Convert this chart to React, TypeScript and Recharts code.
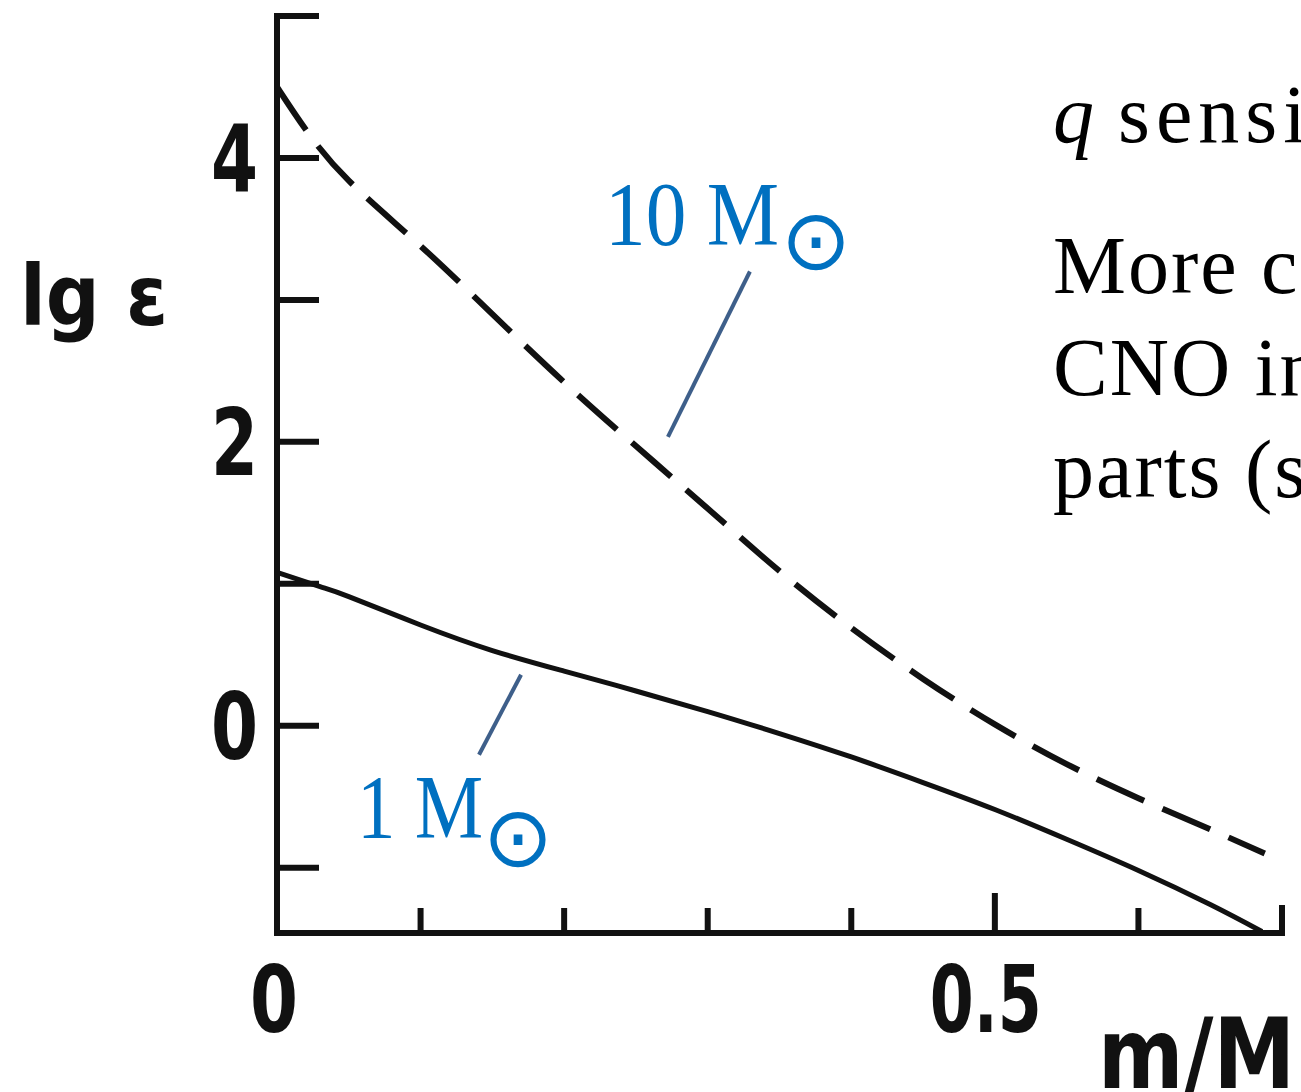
import React from 'react';
import { LineChart, Line, XAxis, YAxis, ReferenceLine } from 'recharts';

// m/M positions and lg epsilon values
const m10X = [0, 0.02, 0.05, 0.1, 0.15, 0.2, 0.25, 0.3, 0.35, 0.4, 0.45, 0.5, 0.55, 0.6, 0.65, 0.688];
const m10Y = [4.5, 4.2, 3.84, 3.38, 2.9, 2.42, 1.97, 1.53, 1.09, 0.69, 0.33, 0.01, -0.27, -0.51, -0.73, -0.9];
const m1X = [0, 0.03, 0.05, 0.1, 0.15, 0.2, 0.25, 0.3, 0.35, 0.4, 0.45, 0.5, 0.55, 0.6, 0.65, 0.686];
const m1Y = [1.08, 0.98, 0.91, 0.71, 0.53, 0.385, 0.245, 0.1, -0.055, -0.22, -0.4, -0.59, -0.8, -1.02, -1.26, -1.45];

const xTicks = [0, 0.1, 0.2, 0.3, 0.4, 0.5, 0.6, 0.7];
const xTickLabels: Record<string, string> = { '0': '0', '0.5': '0.5' };
const yTicks = [-1, 0, 1, 2, 3, 4, 5];
const yTickLabels: Record<string, string> = { '0': '0', '2': '2', '4': '4' };

// annotation leader segments (data coordinates)
const leader10 = [{ x: 0.3294, y: 3.2 }, { x: 0.2723, y: 2.035 }];
const leader1 = [{ x: 0.17, y: 0.359 }, { x: 0.1407, y: -0.204 }];

const rightLines = ['More concentrated:', 'CNO in central', 'parts (see'];

const m10Data = m10X.map((x, i) => ({ x, y: m10Y[i] }));
const m1Data = m1X.map((x, i) => ({ x, y: m1Y[i] }));

const digitFont = "'Liberation Sans Narrow', 'DejaVu Sans Condensed', sans-serif";
const serifFont = "'Liberation Serif', 'DejaVu Serif', serif";
const blue = '#0070C0';
const leaderColor = '#3E5F8A';

const XTick = (props: any) => {
  const { x, y, payload } = props;
  const v = payload.value;
  const len = v === 0 ? 0 : Math.abs(v - 0.5) < 1e-6 ? 40 : Math.abs(v - 0.7) < 1e-6 ? 28 : 25;
  const label = xTickLabels[String(v)];
  return (
    <g>
      {len > 0 && <line x1={x} y1={y} x2={x} y2={y - len} stroke="#111" strokeWidth={6} />}
      {label && (
        <text x={x + (v === 0 ? -3 : -9)} y={y + 99} textAnchor="middle" fontFamily={digitFont}
          fontWeight={700} fontSize={92} fill="#111"
          textLength={v === 0 ? 48 : 112} lengthAdjust="spacingAndGlyphs">{label}</text>
      )}
    </g>
  );
};

const YTick = (props: any) => {
  const { x, y, payload } = props;
  const v = payload.value;
  const label = yTickLabels[String(v)];
  return (
    <g>
      <line x1={x} y1={y} x2={x + 42} y2={y} stroke="#111" strokeWidth={6} />
      {label && (
        <text x={x - 19} y={y + 33} textAnchor="end" fontFamily={digitFont}
          fontWeight={700} fontSize={92} fill="#111"
          textLength={47} lengthAdjust="spacingAndGlyphs">{label}</text>
      )}
    </g>
  );
};

export default function App() {
  return (
    <div style={{ position: 'absolute', left: 0, top: 0, width: 1301, height: 1092, background: '#fff' }}>
      <LineChart width={1301} height={1092} margin={{ top: 16, right: 19, bottom: 0, left: 0 }}>
        <XAxis type="number" dataKey="x" domain={[0, 0.7]} ticks={xTicks} height={159}
          axisLine={{ stroke: '#111', strokeWidth: 6, strokeLinecap: 'square' }}
          tickLine={false} tickSize={0} tickMargin={0} tick={<XTick />} interval={0} allowDataOverflow />
        <YAxis type="number" dataKey="y" domain={[-1.46, 5]} ticks={yTicks} width={277}
          axisLine={{ stroke: '#111', strokeWidth: 6, strokeLinecap: 'square' }}
          tickLine={false} tickSize={0} tickMargin={0} tick={<YTick />} interval={0} allowDataOverflow />
        <Line data={m10Data} dataKey="y" type="natural" stroke="#111" strokeWidth={6}
          strokeDasharray="52 20" dot={false} isAnimationActive={false} />
        <Line data={m1Data} dataKey="y" type="natural" stroke="#111" strokeWidth={5}
          dot={false} isAnimationActive={false} />
        <ReferenceLine segment={leader10} stroke={leaderColor} strokeWidth={4} ifOverflow="visible" />
        <ReferenceLine segment={leader1} stroke={leaderColor} strokeWidth={4} ifOverflow="visible" />
      </LineChart>
      <svg width={1301} height={1092} style={{ position: 'absolute', left: 0, top: 0, pointerEvents: 'none' }}>
        <text x={20} y={325} fontFamily={digitFont} fontWeight={700} fontSize={84} fill="#111"
          textLength={148} lengthAdjust="spacingAndGlyphs">lg ε</text>
        <text x={1098} y={1088} fontFamily={digitFont} fontWeight={700} fontSize={98} fill="#111"
          textLength={197} lengthAdjust="spacingAndGlyphs">m/M</text>
        <text x={605} y={245} fontFamily={serifFont} fontSize={90} fill={blue}
          textLength={174} lengthAdjust="spacingAndGlyphs">10 M</text>
        <text x={816} y={269} textAnchor="middle" fontFamily="'DejaVu Sans', sans-serif" fontSize={84} fill={blue}>⊙</text>
        <text x={357} y={838} fontFamily={serifFont} fontSize={90} fill={blue}
          textLength={126} lengthAdjust="spacingAndGlyphs">1 M</text>
        <text x={518} y={866} textAnchor="middle" fontFamily="'DejaVu Sans', sans-serif" fontSize={84} fill={blue}>⊙</text>
        <text x={1053} y={142} fontFamily={serifFont} fontSize={82} fill="#000">
          <tspan fontStyle="italic">q</tspan>
          <tspan x={1118} letterSpacing={6}>sensitive</tspan>
        </text>
        {rightLines.map((t, i) => (
          <text key={t} x={1053} y={293 + i * 102} fontFamily={serifFont} fontSize={82} fill="#000"
            letterSpacing={2}>{t}</text>
        ))}
      </svg>
    </div>
  );
}
